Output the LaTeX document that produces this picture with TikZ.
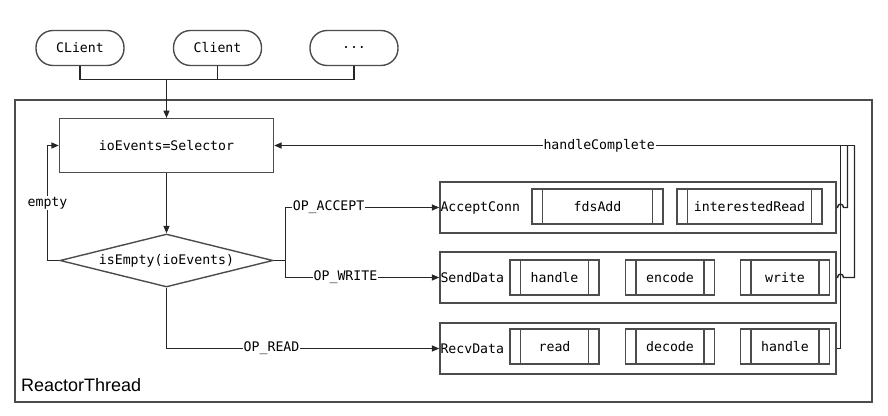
\documentclass[tikz,border=0pt]{standalone}
\usepackage{fontspec}
\setmainfont{Liberation Sans}
\newfontfamily\codefont{DejaVu Sans Mono}
\usetikzlibrary{shapes.geometric,arrows.meta}

\tikzset{
  code/.style={font=\codefont\fontsize{13.2}{15}\selectfont},
  wire/.style={draw=black!85, line width=1.4pt},
  arr/.style={wire, -{Triangle[length=7.5pt,width=6pt]}},
  lbl/.style={code, fill=white, inner sep=1pt},
  boxframe/.style={draw=black!70, line width=1.4pt, rectangle, inner sep=0pt},
  client/.style={code, draw=black!70, line width=1.4pt, rectangle, rounded corners=17pt,
    minimum width=88pt, minimum height=35pt, inner sep=0pt},
  stepbox/.style={boxframe, code, minimum height=35pt},
  proc/.style={stepbox, minimum width=#1,
    path picture={
      \draw[black!70, line width=1.4pt]
        ([xshift=10.5pt]path picture bounding box.north west) --
        ([xshift=10.5pt]path picture bounding box.south west)
        ([xshift=-10.5pt]path picture bounding box.north east) --
        ([xshift=-10.5pt]path picture bounding box.south east);
    }},
  group/.style={boxframe, minimum width=396pt, minimum height=51pt},
  grouptitle/.style={code, anchor=west, inner sep=1pt},
}

\begin{document}
\begin{tikzpicture}[x=1pt, y=-1pt]
  \useasboundingbox (0,0) rectangle (888,415);

  % thread frame
  \node[boxframe, minimum width=857pt, minimum height=302pt] (thread) at (443.5,251) {};
  \node[anchor=base west, inner sep=0pt, font=\fontsize{18}{20}\selectfont] (threadname) at (21,391) {ReactorThread};

  % clients
  \node[client] (c1) at (80,48) {CLient};
  \node[client] (c2) at (217.5,48) {Client};
  \node[client] (c3) at (354,48) {.\kern0pt.\kern0pt.};
  \coordinate (bus) at (166.5,79.5);
  \draw[wire] (c1.south) |- (bus) -| (c3.south);
  \draw[wire] (c2.south) -- (c2.south |- bus);
  \draw[arr] (bus) -- (166.5,118);

  % selector and test
  \node[boxframe, code, minimum width=214pt, minimum height=54pt] (sel) at (166.5,145.5) {ioEvents=Selector};
  \node[diamond, draw=black!70, line width=1.4pt, code, aspect=4, inner sep=0pt,
        minimum width=213pt, minimum height=53pt] (dia) at (166.5,260.5) {isEmpty(ioEvents)};
  \draw[arr] (sel.south) -- (dia.north);

  % empty loop
  \coordinate (eb) at (47.5,260.5);
  \coordinate (et) at (47.5,145.5);
  \draw[arr] (dia.west) -- (eb) -- node[lbl] {empty} (et) -- (sel.west);

  % handler groups
  \node[group] (acc) at (638,207.5) {};
  \node[grouptitle] (acct) at (acc.west) {AcceptConn};
  \node[proc=131pt] (fds) at (597.5,206.5) {fdsAdd};
  \node[proc=145pt] (ird) at (749.5,206.5) {interestedRead};

  \node[group] (snd) at (638,277.5) {};
  \node[grouptitle] (sndt) at (snd.west) {SendData};
  \node[proc=89pt] (hw) at (554.5,277.5) {handle};
  \node[proc=89pt] (enc) at (670,277.5) {encode};
  \node[proc=89pt] (wr) at (785,277.5) {write};

  \node[group] (rcv) at (638,348.5) {};
  \node[grouptitle] (rcvt) at (rcv.west) {RecvData};
  \node[proc=89pt] (rd) at (554.5,346.5) {read};
  \node[proc=89pt] (dec) at (670,346.5) {decode};
  \node[proc=89pt] (hr) at (785,346.5) {handle};

  % dispatch
  \coordinate (br) at (285.5,260.5);
  \draw[wire] (dia.east) -- (br);
  \draw[arr] (br) -- (br |- acc.west) -- node[lbl, pos=0.28] {OP\_ACCEPT} (acc.west);
  \draw[arr] (br) -- (br |- snd.west) -- node[lbl, pos=0.39] {OP\_WRITE} (snd.west);
  \draw[arr] (dia.south) -- (dia.south |- rcv.west) -- node[lbl, pos=0.385] {OP\_READ} (rcv.west);

  % completion back to the selector
  \coordinate (ret) at (854.5,145.5);
  \draw[wire] (rcv.east) -- (840.5,348.5) -- (840.5,145.5);
  \draw[wire] (acc.east) -- (837.5,207.5) .. controls (837.5,203) and (843.5,203) .. (843.5,207.5)
              -- (847.5,207.5) -- (847.5,145.5);
  \draw[wire] (snd.east) -- (837.5,277.5) .. controls (837.5,273) and (843.5,273) .. (843.5,277.5)
              -- (854.5,277.5) -- (ret);
  \draw[arr] (ret) -- node[lbl, pos=0.44] {handleComplete} (sel.east);
\end{tikzpicture}
\end{document}
